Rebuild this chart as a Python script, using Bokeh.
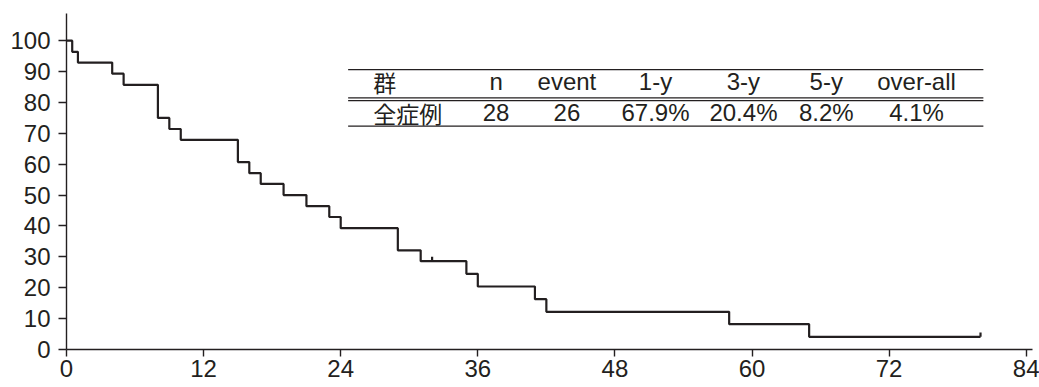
from bokeh.plotting import figure
from bokeh.models import Range1d, FixedTicker
from bokeh.core.properties import value
from bokeh.embed import file_html
from bokeh.resources import INLINE

# Kaplan-Meier curve (months, survival %)
step_times = [0, 0.5, 1, 4, 5, 8, 9, 10, 15, 16, 17, 19, 21, 23, 24, 29, 31, 35, 36, 41, 42, 58, 65, 80]
step_surv = [100, 96.4, 92.9, 89.3, 85.7, 75.0, 71.4, 67.9, 60.7, 57.1, 53.6, 50.0, 46.4, 42.9, 39.3,
             32.1, 28.6, 24.5, 20.4, 16.3, 12.2, 8.2, 4.1, 4.1]
censor_times = [32, 80]
censor_surv = [28.6, 4.1]

x_ticks = [0, 12, 24, 36, 48, 60, 72, 84]
y_ticks = [0, 10, 20, 30, 40, 50, 60, 70, 80, 90, 100]

table_header = ["群", "n", "event", "1-y", "3-y", "5-y", "over-all"]
table_row = ["全症例", "28", "26", "67.9%", "20.4%", "8.2%", "4.1%"]

INK = "#231f20"
FONT = "Liberation Sans"
CJK = "Noto Sans CJK JP"

p = figure(width=1039, height=387, output_backend="svg", toolbar_location=None,
           x_range=Range1d(0, 84.55), y_range=Range1d(0, 108.8),
           min_border_left=66, min_border_right=7, min_border_top=13, min_border_bottom=38)
p.outline_line_color = None
p.xgrid.grid_line_color = None
p.ygrid.grid_line_color = None
p.background_fill_color = "white"

for ax in (p.xaxis[0], p.yaxis[0]):
    ax.axis_line_color = INK
    ax.axis_line_width = 1.4
    ax.major_tick_line_color = INK
    ax.major_tick_line_width = 1.4
    ax.major_tick_in = 0
    ax.minor_tick_line_color = None
    ax.major_label_text_font = FONT
    ax.major_label_text_font_size = "24px"
    ax.major_label_text_color = INK

p.xaxis.major_tick_out = 7
p.yaxis.major_tick_out = 8
p.xaxis.ticker = FixedTicker(ticks=x_ticks)
p.yaxis.ticker = FixedTicker(ticks=y_ticks)
p.xaxis.major_label_standoff = 3
p.yaxis.major_label_standoff = 8

# KM step curve
p.step(step_times, step_surv, mode="after", line_color=INK, line_width=2.2)

# censor marks
p.segment(x0=censor_times, y0=censor_surv, x1=censor_times,
          y1=[s + 1.4 for s in censor_surv], line_color=INK, line_width=2.2)

# table
tbl_left, tbl_right = 24.65, 80.25
rule_y = [90.6, 81.5, 80.6, 72.3]
p.segment(x0=[tbl_left] * 4, x1=[tbl_right] * 4, y0=rule_y, y1=rule_y,
          line_color=INK, line_width=1.3)

col_x = [26.85, 37.6, 43.8, 51.55, 59.25, 66.5, 74.4]
head_y, row_y = 86.7, 76.7

p.text(x=[col_x[0]], y=[head_y], text=[table_header[0]], text_font=value(CJK),
       text_font_size="23px", text_color=INK, text_align="left", text_baseline="alphabetic")
p.text(x=[col_x[0]], y=[row_y], text=[table_row[0]], text_font=value(CJK),
       text_font_size="23px", text_color=INK, text_align="left", text_baseline="alphabetic")
p.text(x=col_x[1:], y=[head_y] * 6, text=table_header[1:], text_font=value(FONT),
       text_font_size="24px", text_color=INK, text_align="center", text_baseline="alphabetic")
p.text(x=col_x[1:], y=[row_y] * 6, text=table_row[1:], text_font=value(FONT),
       text_font_size="24px", text_color=INK, text_align="center", text_baseline="alphabetic")

open("out.html", "w").write(file_html(p, INLINE))
